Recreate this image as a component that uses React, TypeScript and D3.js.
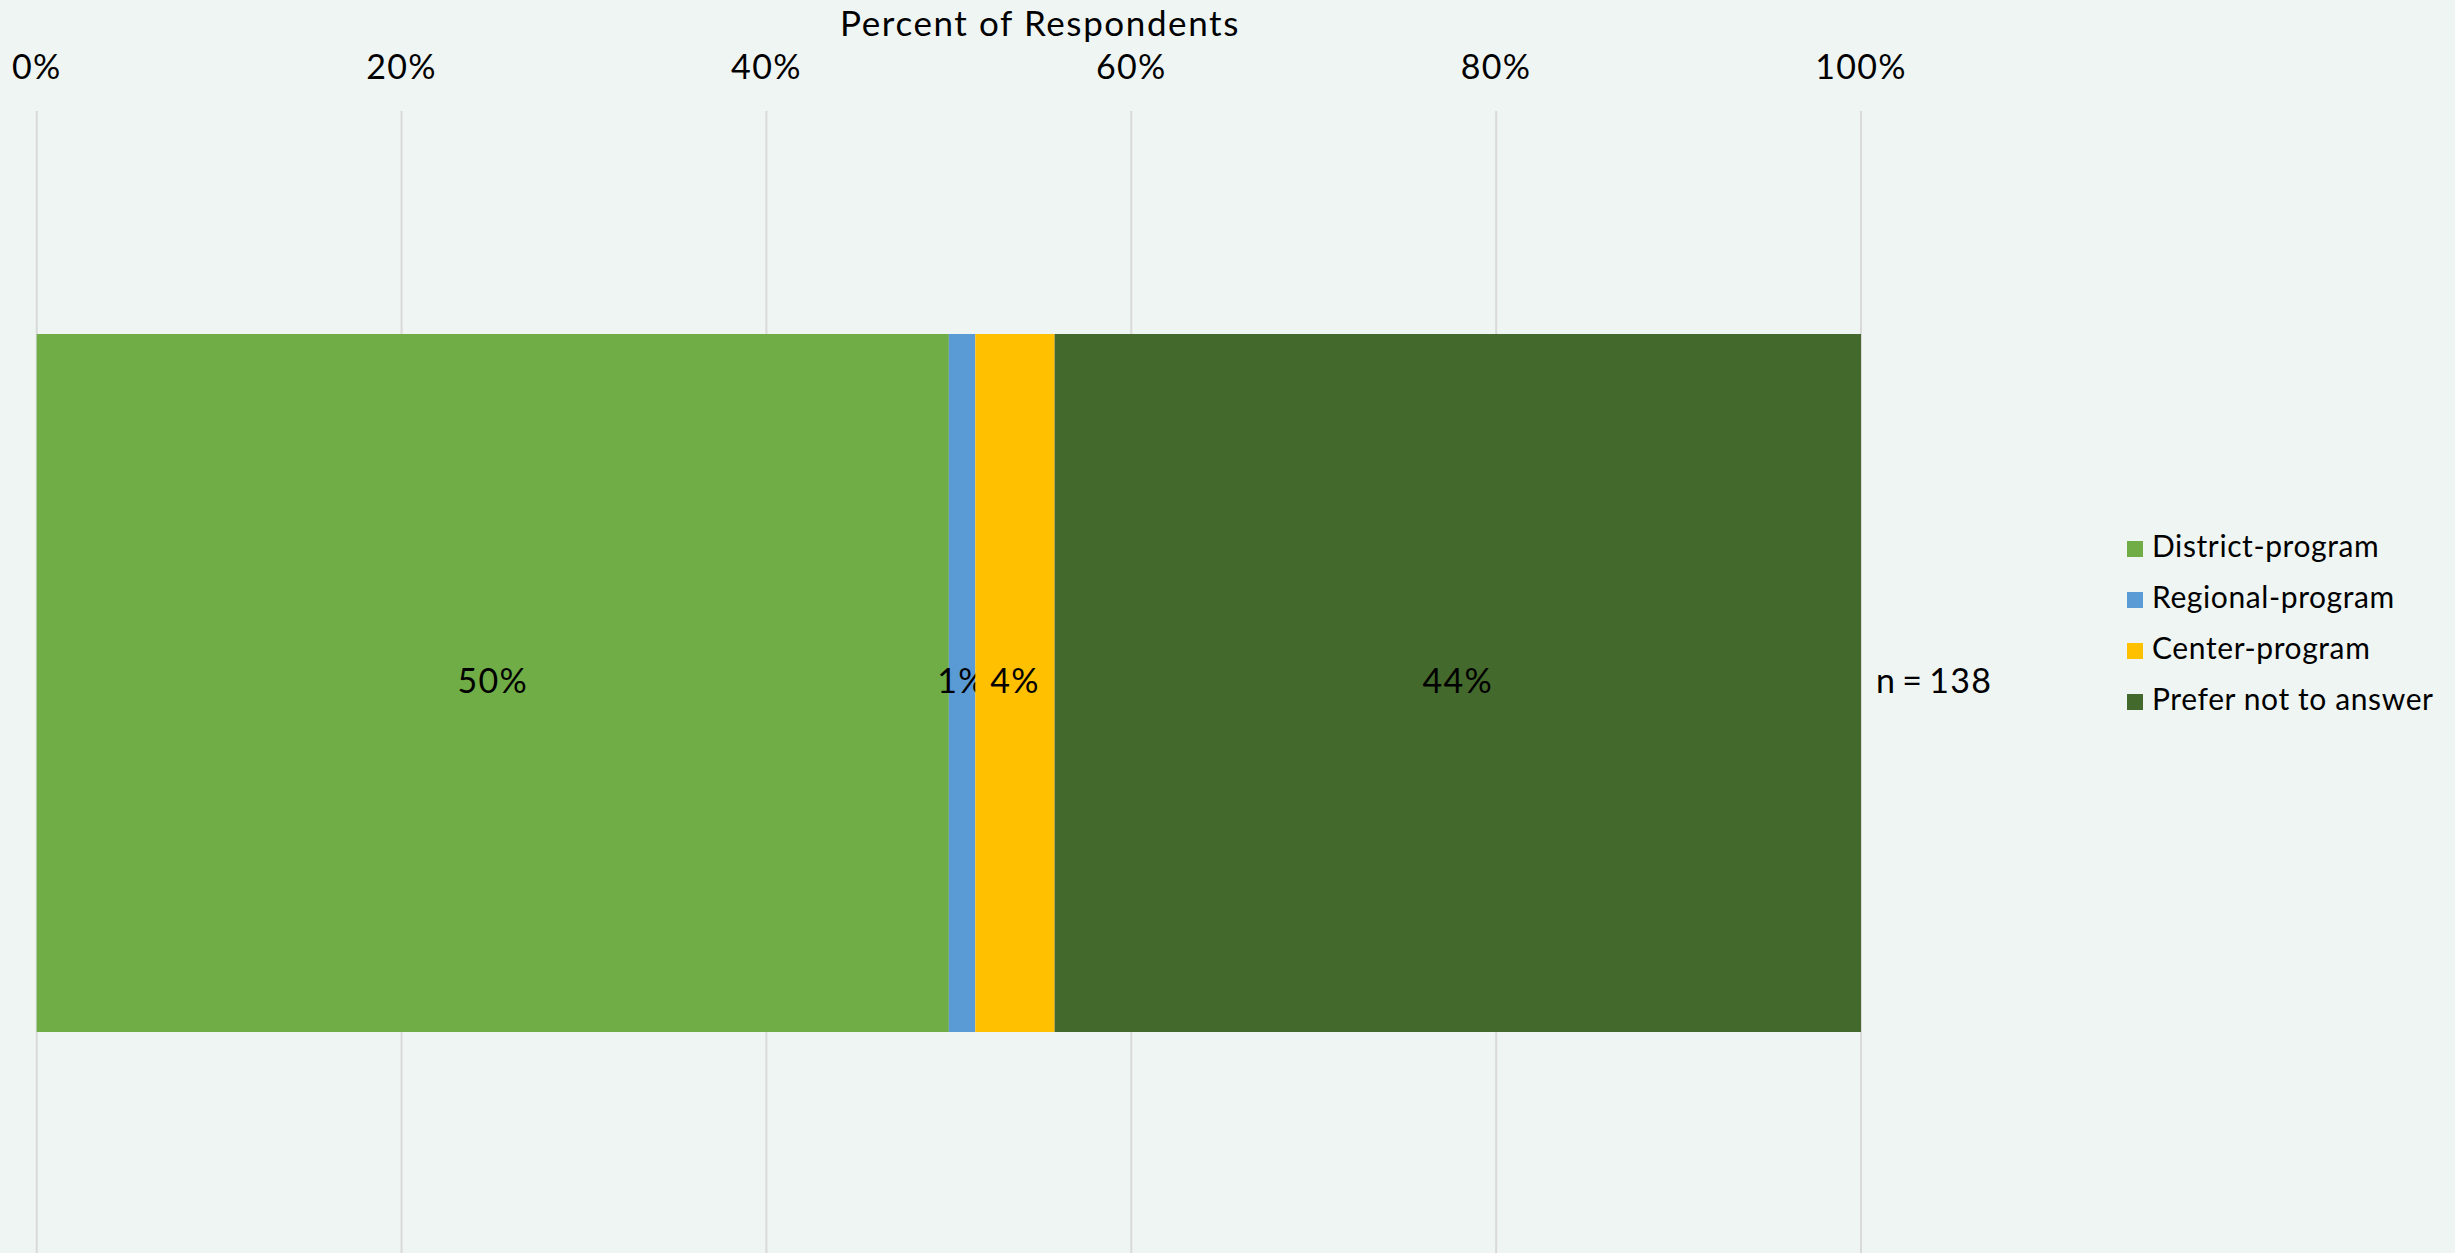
import React, { useEffect } from "react";
import * as d3 from "d3";

const categories = ["District-program", "Regional-program", "Center-program", "Prefer not to answer"];
const counts = [69, 2, 6, 61];
const totalN = 138;
const colors = ["#70AD47", "#5B9BD5", "#FFC000", "#44692C"];
const tickValues = [0, 0.2, 0.4, 0.6, 0.8, 1.0];
const axisTitle = "Percent of Respondents";

const W = 2455;
const H = 1253;
const FONT = "Lato, 'Open Sans', sans-serif";

export default function App() {
  useEffect(() => {
    document.body.style.margin = "0";
    document.body.style.background = "#EFF5F2";
  }, []);

  const x = d3.scaleLinear().domain([0, 1]).range([36.7, 1861]);
  const barTop = 334;
  const barBottom = 1032;

  const shares = counts.map((c) => c / totalN);
  const stackData = [Object.fromEntries(categories.map((c, i) => [c, shares[i]]))];
  const series = d3.stack<any>().keys(categories)(stackData as any);

  return (
    <svg width={W} height={H} style={{ position: "absolute", left: 0, top: 0, display: "block" }} fontFamily={FONT}>
      <rect x={0} y={0} width={W} height={H} fill="#EFF5F2" />
      {tickValues.map((t) => (
        <g key={t}>
          <line x1={x(t)} x2={x(t)} y1={111} y2={H} stroke="#D9D9D9" strokeWidth={2} />
          <text x={x(t)} y={79} textAnchor="middle" fontSize={34} letterSpacing={1.3} fill="#000">
            {d3.format(".0%")(t)}
          </text>
        </g>
      ))}
      <text x={1040} y={36} textAnchor="middle" fontSize={35} letterSpacing={1.6} fill="#000">
        {axisTitle}
      </text>
      {series.map((s, i) => {
        const d = s[0];
        const x0 = x(d[0]);
        const x1 = x(d[1]);
        return (
          <g key={s.key}>
            <rect x={x0} y={barTop} width={x1 - x0} height={barBottom - barTop} fill={colors[i]} />
            <text x={(x0 + x1) / 2} y={693} textAnchor="middle" fontSize={34} letterSpacing={1.3} fill="#000">
              {d3.format(".0%")(shares[i])}
            </text>
          </g>
        );
      })}
      <text x={1876} y={693} textAnchor="start" fontSize={34} letterSpacing={1.3} wordSpacing={-4} fill="#000">
        {`n = ${totalN}`}
      </text>
      {categories.map((c, i) => (
        <g key={c} transform={`translate(0, ${i * 51})`}>
          <rect x={2127} y={541} width={16} height={16} fill={colors[i]} />
          <text x={2152} y={557} fontSize={30} letterSpacing={0.6} fill="#000">
            {c}
          </text>
        </g>
      ))}
    </svg>
  );
}
